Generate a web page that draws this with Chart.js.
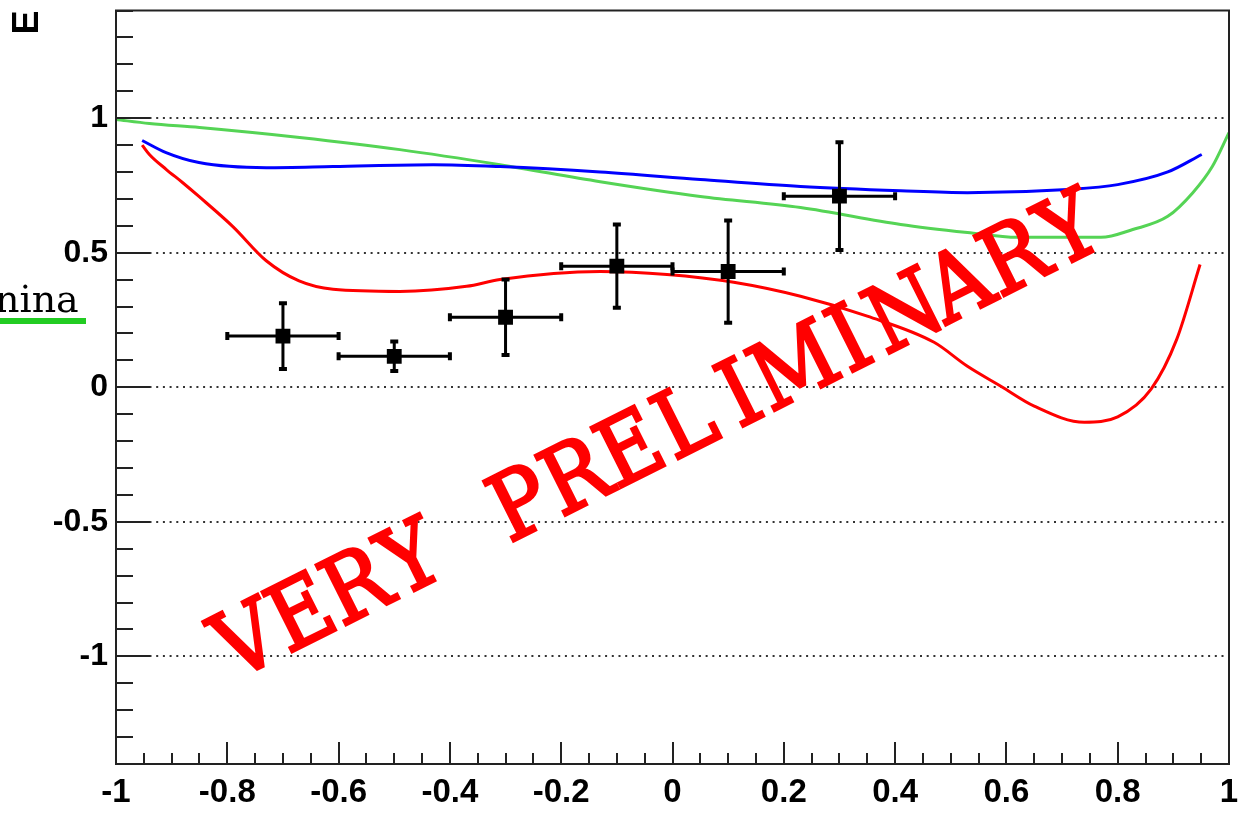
<!DOCTYPE html>
<html>
<head>
<meta charset="utf-8">
<script src="https://cdn.jsdelivr.net/npm/chart.js@4.4.0/dist/chart.umd.min.js"></script>
<style>
  html, body { margin: 0; padding: 0; background: #fff; }
</style>
</head>
<body>
<canvas id="chart" width="1249" height="815"></canvas>
<script>
// axis labels
const xTicks = [-1, -0.8, -0.6, -0.4, -0.2, 0, 0.2, 0.4, 0.6, 0.8, 1];
const xTickLabels = ['-1', '-0.8', '-0.6', '-0.4', '-0.2', '0', '0.2', '0.4', '0.6', '0.8', '1'];
const yTicks = [-1, -0.5, 0, 0.5, 1];
const yTickLabels = ['-1', '-0.5', '0', '0.5', '1'];

// measured points (E vs x), with errors
const ptX = [-0.7, -0.5, -0.3, -0.1, 0.1, 0.3];
const ptY = [0.19, 0.115, 0.26, 0.45, 0.43, 0.71];
const ptXErr = [0.1, 0.1, 0.1, 0.1, 0.1, 0.1];
const ptYErr = [0.122, 0.055, 0.14, 0.155, 0.19, 0.2];

// model curves
const greenX = [-1, -0.94, -0.85, -0.67, -0.49, -0.31, -0.13, 0.05, 0.23, 0.41, 0.53, 0.62, 0.77, 0.827, 0.89, 0.935, 0.97, 1.0];
const greenY = [0.995, 0.98, 0.965, 0.928, 0.883, 0.827, 0.764, 0.709, 0.668, 0.605, 0.575, 0.557, 0.557, 0.586, 0.635, 0.723, 0.82, 0.946];

const blueX = [-0.953, -0.91, -0.851, -0.73, -0.61, -0.43, -0.31, -0.13, 0.05, 0.23, 0.41, 0.53, 0.71, 0.8, 0.89, 0.951];
const blueY = [0.917, 0.872, 0.835, 0.816, 0.82, 0.827, 0.82, 0.80, 0.772, 0.746, 0.73, 0.723, 0.735, 0.753, 0.80, 0.865];

const redX = [-0.953, -0.94, -0.91, -0.88, -0.851, -0.79, -0.73, -0.671, -0.61, -0.49, -0.37, -0.31, -0.13, -0.01, 0.11, 0.23, 0.35, 0.47, 0.53, 0.59, 0.65, 0.74, 0.80, 0.86, 0.906, 0.948];
const redY = [0.90, 0.865, 0.81, 0.76, 0.709, 0.597, 0.47, 0.395, 0.364, 0.356, 0.375, 0.40, 0.43, 0.419, 0.39, 0.338, 0.264, 0.167, 0.078, 0.004, -0.07, -0.13, -0.11, -0.007, 0.178, 0.456];

const toXY = (xs, ys) => xs.map((x, i) => ({ x, y: ys[i] }));

const curve = (xs, ys, color) => ({
  type: 'line',
  data: toXY(xs, ys),
  borderColor: color,
  borderWidth: 3,
  pointRadius: 0,
  fill: false,
  cubicInterpolationMode: 'monotone'
});

const decor = {
  id: 'decor',
  beforeDatasetsDraw(chart) {
    const { ctx, chartArea: a, scales: { y } } = chart;
    ctx.save();
    ctx.strokeStyle = '#333';
    ctx.lineWidth = 2;
    ctx.setLineDash([2, 4.7]);
    yTicks.forEach(v => {
      const py = Math.round(y.getPixelForValue(v));
      ctx.beginPath();
      ctx.moveTo(a.left, py);
      ctx.lineTo(a.right, py);
      ctx.stroke();
    });
    ctx.restore();
  },
  beforeDatasetDraw(chart, args) {
    if (args.index !== 0) return;
    // error bars under the markers, over the curves
    const { ctx, scales: { x, y } } = chart;
    ctx.save();
    ctx.strokeStyle = '#000';
    ptX.forEach((vx, i) => {
      const px = x.getPixelForValue(vx);
      const py = y.getPixelForValue(ptY[i]);
      const x0 = x.getPixelForValue(vx - ptXErr[i]);
      const x1 = x.getPixelForValue(vx + ptXErr[i]);
      const y0 = y.getPixelForValue(ptY[i] + ptYErr[i]);
      const y1 = y.getPixelForValue(ptY[i] - ptYErr[i]);
      ctx.lineWidth = 3;
      ctx.beginPath();
      ctx.moveTo(x0, py); ctx.lineTo(x1, py);
      ctx.moveTo(px, y0); ctx.lineTo(px, y1);
      ctx.stroke();
      ctx.lineWidth = 4;
      ctx.beginPath();
      ctx.moveTo(x0, py - 4); ctx.lineTo(x0, py + 4);
      ctx.moveTo(x1, py - 4); ctx.lineTo(x1, py + 4);
      ctx.moveTo(px - 4, y0); ctx.lineTo(px + 4, y0);
      ctx.moveTo(px - 4, y1); ctx.lineTo(px + 4, y1);
      ctx.stroke();
    });
    ctx.restore();
  },
  afterDatasetsDraw(chart) {
    const { ctx, chartArea: a, scales: { x, y } } = chart;
    ctx.save();
    ctx.strokeStyle = '#222';
    ctx.lineWidth = 2;
    ctx.strokeRect(a.left, a.top, a.right - a.left, a.bottom - a.top);
    ctx.beginPath();
    // inward ticks, y every 0.1, x every 0.05
    for (let i = -14; i <= 14; i++) {
      const py = Math.round(y.getPixelForValue(i / 10));
      const len = i % 5 === 0 ? 34 : 17;
      ctx.moveTo(a.left, py);
      ctx.lineTo(a.left + len, py);
    }
    for (let i = -20; i <= 20; i++) {
      const px = Math.round(x.getPixelForValue(i / 20));
      const len = i % 4 === 0 ? 22 : 11;
      ctx.moveTo(px, a.bottom);
      ctx.lineTo(px, a.bottom - len);
    }
    ctx.stroke();
    ctx.restore();
  },
  afterDraw(chart) {
    const { ctx } = chart;
    ctx.save();
    // cut-off slide text on the left
    ctx.fillStyle = '#000';
    ctx.font = '38px "DejaVu Serif"';
    ctx.textBaseline = 'alphabetic';
    ctx.fillText('nina', -5, 312);
    ctx.fillStyle = '#22cc22';
    ctx.fillRect(0, 318, 86, 6);
    ctx.restore();

    // watermark, typewriter spacing
    const mark = 'VERY PRELIMINARY';
    ctx.save();
    ctx.translate(260, 668);
    ctx.rotate(-26.57 * Math.PI / 180);
    ctx.font = '92px "DejaVu Serif"';
    ctx.fillStyle = '#ff0000';
    ctx.strokeStyle = '#ff0000';
    ctx.lineWidth = 3;
    ctx.lineJoin = 'miter';
    ctx.textAlign = 'center';
    ctx.textBaseline = 'alphabetic';
    [...mark].forEach((ch, i) => {
      ctx.save();
      ctx.translate(i * 61.3, 0);
      ctx.scale(0.9, 1);
      ctx.fillText(ch, 0, 0);
      ctx.strokeText(ch, 0, 0);
      ctx.restore();
    });
    ctx.restore();
  }
};

const ctx = document.getElementById('chart').getContext('2d');

new Chart(ctx, {
  type: 'scatter',
  data: {
    datasets: [
      {
        type: 'scatter',
        data: toXY(ptX, ptY),
        pointStyle: 'rect',
        pointRadius: 10.5,
        backgroundColor: '#000',
        borderColor: '#000',
        borderWidth: 0
      },
      curve(blueX, blueY, '#0000ff'),
      curve(greenX, greenY, '#55d455'),
      curve(redX, redY, '#ff0000')
    ]
  },
  options: {
    responsive: false,
    animation: false,
    events: [],
    layout: { padding: { top: 10, right: 20, left: 0, bottom: 0 } },
    plugins: { legend: { display: false }, tooltip: { enabled: false } },
    scales: {
      x: {
        type: 'linear',
        min: -1,
        max: 1,
        afterBuildTicks: s => { s.ticks = xTicks.map(v => ({ value: v })); },
        afterFit: s => { s.height = 51; s.paddingLeft = 0; s.paddingRight = 0; },
        grid: { display: false, drawTicks: false },
        border: { display: false },
        ticks: {
          autoSkip: false,
          maxRotation: 0,
          padding: 9,
          color: '#000',
          font: { family: '"Liberation Sans", Arial, sans-serif', size: 33, weight: 'bold' },
          callback: v => xTickLabels[xTicks.findIndex(t => Math.abs(t - v) < 1e-9)]
        }
      },
      y: {
        type: 'linear',
        min: -1.4,
        max: 1.4,
        afterBuildTicks: s => { s.ticks = yTicks.map(v => ({ value: v })); },
        afterFit: s => { s.width = 116; s.paddingTop = 0; s.paddingBottom = 0; },
        grid: { display: false, drawTicks: false },
        border: { display: false },
        title: {
          display: true,
          text: 'E',
          align: 'end',
          color: '#000',
          padding: { top: 6, bottom: 0 },
          font: { family: '"Liberation Sans", Arial, sans-serif', size: 36, weight: 'bold' }
        },
        ticks: {
          autoSkip: false,
          padding: 8,
          color: '#000',
          font: { family: '"Liberation Sans", Arial, sans-serif', size: 32, weight: 'bold' },
          callback: v => yTickLabels[yTicks.findIndex(t => Math.abs(t - v) < 1e-9)]
        }
      }
    }
  },
  plugins: [decor]
});
</script>
</body>
</html>
